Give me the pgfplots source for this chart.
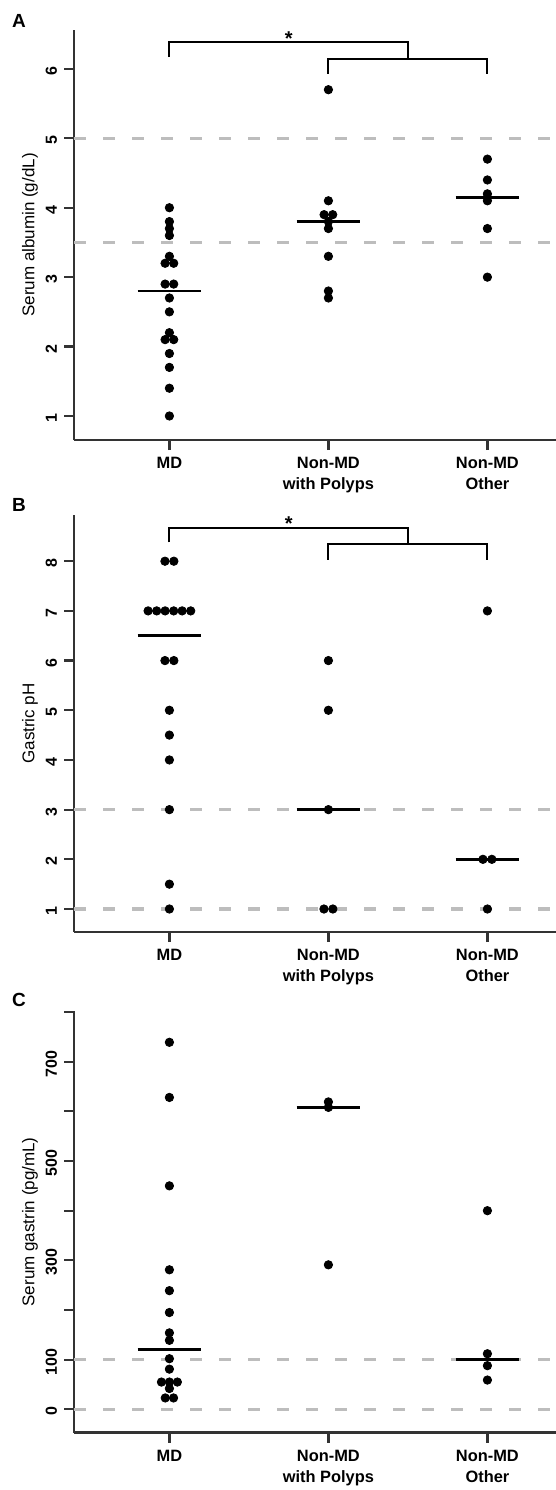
\documentclass[border=0pt]{standalone}
\usepackage{fontspec}
\setmainfont{Liberation Sans}
\usepackage{pgfplots}
\pgfplotsset{compat=1.18}

\definecolor{axisgray}{HTML}{333333}
\definecolor{refgray}{HTML}{BDBDBD}

\pgfplotsset{
  panel/.style={
    scale only axis,
    width=246.45pt,
    xmin=0.4, xmax=3.5,
    axis x line*=bottom,
    axis y line*=left,
    axis line style={axisgray, line width=1.25pt},
    tick align=outside,
    major tick length=5pt,
    every tick/.style={axisgray, line width=1.1pt},
    xtick={1,2,3},
    xticklabels={MD,{Non-MD\\with Polyps},{Non-MD\\Other}},
    xticklabel style={align=center, font=\bfseries\fontsize{8.2}{10.5}\selectfont},
    yticklabel style={rotate=90, anchor=south, xshift=-1pt, font=\bfseries\fontsize{8}{10}\selectfont},
    /pgf/number format/assume math mode=true,
    ylabel style={at={(axis description cs:-0.0893,0.5)}, anchor=center, font=\fontsize{8.5}{10}\selectfont},
    clip=false,
  },
  dots/.style={only marks, mark=*, mark size=2.1pt, black},
  medbar/.style={black, line width=1.3pt, no marks},
  refline/.style={refgray, line width=1.6pt, dash pattern=on 6pt off 8.5pt, no marks},
  bracket/.style={black, line width=1pt, no marks},
}

\begin{document}
\begin{tikzpicture}
\useasboundingbox (0,0) rectangle (278pt,-745pt);

% panel letters
\node[font=\bfseries\fontsize{9.5}{9.5}\selectfont] at (9.5pt,-10.5pt) {A};
\node[font=\bfseries\fontsize{9.5}{9.5}\selectfont] at (9.5pt,-252.5pt) {B};
\node[font=\bfseries\fontsize{9.5}{9.5}\selectfont] at (9.5pt,-500pt) {C};

%% A: serum albumin
\begin{axis}[panel, at={(37pt,-220pt)}, anchor=south west,
    height=205pt, ymin=0.654, ymax=6.56,
    ytick={1,2,3,4,5,6},
    ylabel={Serum albumin (g/dL)}]
\addplot[refline] coordinates {(0.4,5) (3.5,5)};
\addplot[refline] coordinates {(0.4,3.5) (3.5,3.5)};
\addplot[medbar] coordinates {(0.8,2.8) (1.2,2.8)};
\addplot[medbar] coordinates {(1.8,3.8) (2.2,3.8)};
\addplot[medbar] coordinates {(2.8,4.15) (3.2,4.15)};
\addplot[dots] coordinates {
  (1,4.0) (1,3.8) (1,3.7) (1,3.6) (1,3.3) (0.973,3.2) (1.027,3.2)
  (0.973,2.9) (1.027,2.9) (1,2.7) (1,2.5) (1,2.2) (0.973,2.1) (1.027,2.1)
  (1,1.9) (1,1.7) (1,1.4) (1,1.0)};
\addplot[dots] coordinates {
  (2,5.7) (2,4.1) (1.973,3.9) (2.027,3.9) (2,3.8) (2,3.7) (2,3.3) (2,2.8) (2,2.7)};
\addplot[dots] coordinates {
  (3,4.7) (3,4.4) (3,4.2) (3,4.15) (3,4.1) (3,3.7) (3,3.0)};
\addplot[bracket] coordinates {(1,6.17) (1,6.39) (2.5,6.39) (2.5,6.14)};
\addplot[bracket] coordinates {(2,5.93) (2,6.14) (3,6.14) (3,5.93)};
\node[anchor=base, font=\bfseries\fontsize{10}{10}\selectfont] at (axis cs:1.75,6.33) {*};
\end{axis}

%% B: gastric pH
\begin{axis}[panel, at={(37pt,-466pt)}, anchor=south west,
    height=208.5pt, ymin=0.537, ymax=8.93,
    ytick={1,2,3,4,5,6,7,8},
    ylabel={Gastric pH}]
\addplot[refline] coordinates {(0.4,3) (3.5,3)};
\addplot[refline] coordinates {(0.4,1) (3.5,1)};
\addplot[medbar] coordinates {(0.8,6.5) (1.2,6.5)};
\addplot[medbar] coordinates {(1.8,3) (2.2,3)};
\addplot[medbar] coordinates {(2.8,2) (3.2,2)};
\addplot[dots] coordinates {
  (0.972,8) (1.028,8)
  (0.866,7) (0.92,7) (0.973,7) (1.027,7) (1.08,7) (1.134,7)
  (0.972,6) (1.028,6) (1,5) (1,4.5) (1,4) (1,3) (1,1.5) (1,1)};
\addplot[dots] coordinates {(2,6) (2,5) (2,3) (1.972,1) (2.028,1)};
\addplot[dots] coordinates {(3,7) (2.972,2) (3.028,2) (3,1)};
\addplot[bracket] coordinates {(1,8.38) (1,8.66) (2.5,8.66) (2.5,8.35)};
\addplot[bracket] coordinates {(2,8.03) (2,8.35) (3,8.35) (3,8.03)};
\node[anchor=base, font=\bfseries\fontsize{10}{10}\selectfont] at (axis cs:1.75,8.614) {*};
\end{axis}

%% C: serum gastrin
\begin{axis}[panel, at={(37pt,-716.35pt)}, anchor=south west,
    height=210.85pt, ymin=-47, ymax=802,
    ytick={0,100,200,300,400,500,600,700,800},
    yticklabels={0,100,{},300,{},500,{},700,{}},
    ylabel={Serum gastrin (pg/mL)}]
\addplot[refline] coordinates {(0.4,100) (3.5,100)};
\addplot[refline] coordinates {(0.4,0) (3.5,0)};
\addplot[medbar] coordinates {(0.8,121) (1.2,121)};
\addplot[medbar] coordinates {(1.8,608) (2.2,608)};
\addplot[medbar] coordinates {(2.8,100) (3.2,100)};
\addplot[dots] coordinates {
  (1,739) (1,628) (1,450) (1,281) (1,239) (1,195) (1,154) (1,139)
  (1,102) (1,81) (0.95,55) (1,55) (1.05,55) (1,42) (0.974,23) (1.026,23)};
\addplot[dots] coordinates {(2,619) (2,608) (2,291)};
\addplot[dots] coordinates {(3,400) (3,112) (3,88) (3,59)};
\end{axis}
\end{tikzpicture}
\end{document}
